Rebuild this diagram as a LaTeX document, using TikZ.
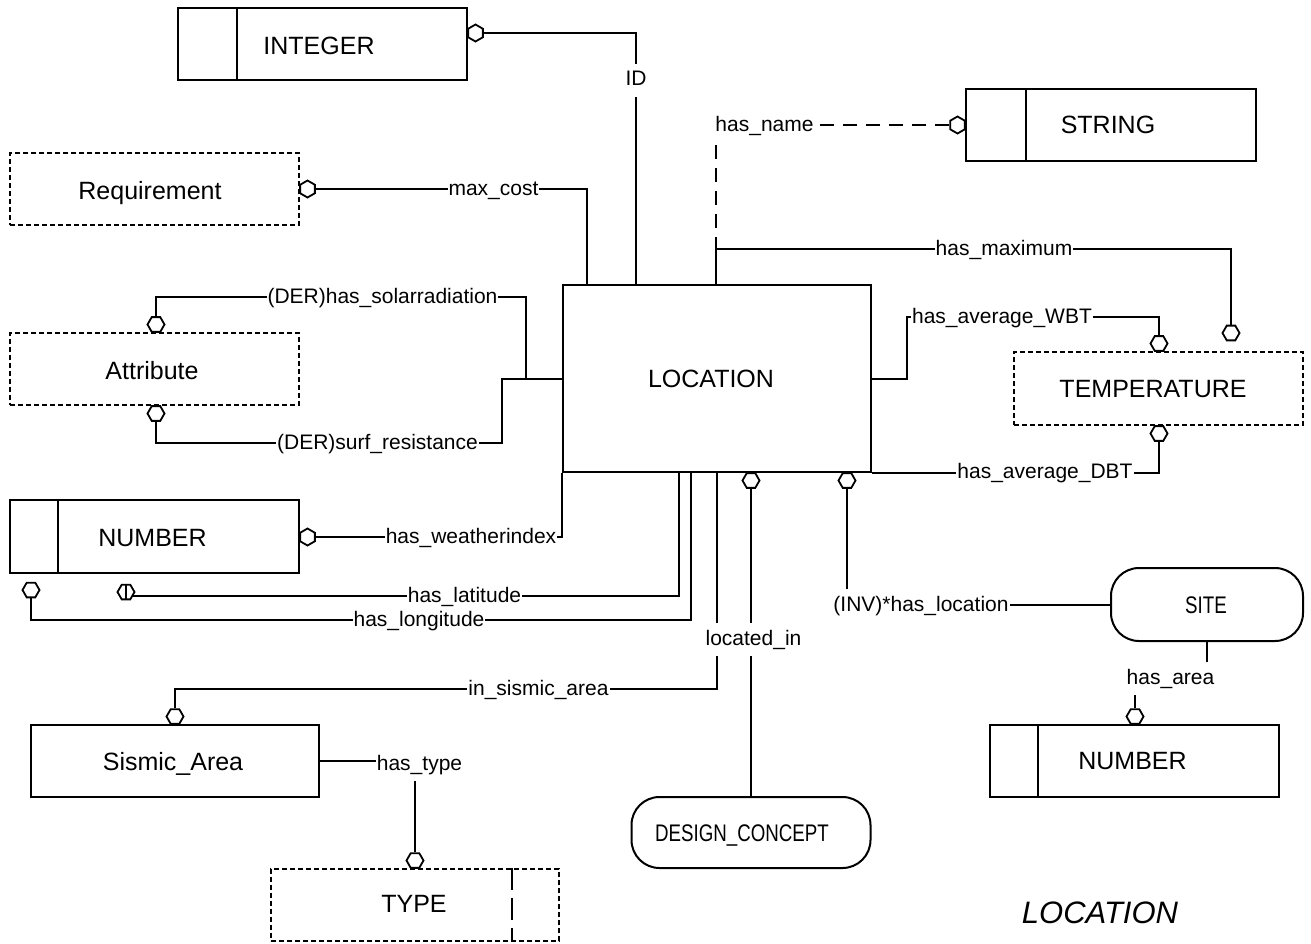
\documentclass[tikz,border=0pt]{standalone}
\usepackage{fontspec}
\setmainfont{Liberation Sans}
\newfontfamily\narrowfont[FakeStretch=0.78]{Liberation Sans}
\usetikzlibrary{shapes.geometric}

\newcommand{\boxfont}{\fontsize{25}{30}\selectfont}
\newcommand{\relfont}{\fontsize{21}{25}\selectfont}
\newcommand{\schemafont}{\narrowfont\fontsize{24}{28}\selectfont}

\begin{document}
\begin{tikzpicture}[x=1pt,y=-1pt,
  line width=2pt,
  entity/.style={draw, rectangle, inner sep=0pt, minimum width=289pt, minimum height=72pt},
  dashedentity/.style={entity, dash pattern=on 5pt off 3pt},
  schemabox/.style={draw, rectangle, rounded corners=28pt, inner sep=0pt},
  boxtext/.style={font=\boxfont, anchor=base, inner sep=0pt},
  hexv/.style={draw, fill=white, regular polygon, regular polygon sides=6,
               minimum size=17pt, inner sep=0pt, line width=1.8pt},
  hexh/.style={hexv, shape border rotate=90},
  rel/.style={font=\relfont, fill=white, anchor=base, text height=15pt,
              text depth=5pt, inner xsep=1pt, inner ysep=0pt},
  vrel/.style={rel, text height=16pt, inner ysep=6pt},
  namedash/.style={dash pattern=on 14pt off 9pt},
]
\fill[white] (0,0) rectangle (1311,943);
\useasboundingbox (0,0) rectangle (1311,943);

% ---------- entities ----------
\node[entity, minimum width=308pt, minimum height=187pt] (loc) at (717,378.5) {};
\node[boxtext] (locT) at (711,387) {LOCATION};

\node[entity] (integer) at (322.5,44) {};
\draw ([xshift=60pt]integer.north west) -- ([xshift=60pt]integer.south west);
\node[boxtext] (integerT) at (319,54) {INTEGER};

\node[entity, minimum width=290pt] (string) at (1111,125) {};
\draw ([xshift=61pt]string.north west) -- ([xshift=61pt]string.south west);
\node[boxtext] (stringT) at (1108,133) {STRING};

\node[dashedentity] (req) at (154.5,189) {};
\node[boxtext] (reqT) at (150,199) {Requirement};

\node[dashedentity] (attr) at (154.5,369) {};
\node[boxtext] (attrT) at (152,379) {Attribute};

\node[entity, minimum height=73pt] (numL) at (154.5,536.5) {};
\draw ([xshift=49pt]numL.north west) -- ([xshift=49pt]numL.south west);
\node[boxtext] (numLT) at (152.5,546) {NUMBER};

\node[dashedentity, minimum height=73pt] (temp) at (1158.5,388.5) {};
\node[boxtext] (tempT) at (1153,397) {TEMPERATURE};

\node[schemabox, minimum width=192pt, minimum height=73pt] (site) at (1207,604.5) {};
\node[font=\schemafont, anchor=base, inner sep=0pt] (siteT) at (1206,613) {SITE};

\node[entity] (numR) at (1134.5,761) {};
\draw ([xshift=49pt]numR.north west) -- ([xshift=49pt]numR.south west);
\node[boxtext] (numRT) at (1132.5,769) {NUMBER};

\node[entity, minimum width=288pt] (sismic) at (175,761) {};
\node[boxtext] (sismicT) at (173,770) {Sismic\_Area};

\node[dashedentity, minimum width=288pt] (type) at (415,905) {};
\draw[dash pattern=on 22pt off 8pt] ([xshift=-48pt]type.north east) -- ([xshift=-48pt]type.south east);
\node[boxtext] (typeT) at (414,912) {TYPE};

\node[schemabox, minimum width=239pt, minimum height=71pt] (design) at (751,832.5) {};
\node[font=\schemafont, anchor=base, inner sep=0pt] (designT) at (742,841.5) {DESIGN\_CONCEPT};

\node[font=\fontsize{31}{36}\selectfont\itshape, anchor=base, inner sep=0pt] (title) at (1100,923) {LOCATION};

% ---------- optional-end markers ----------
\node[hexh] (hInt)    at (475.5,33)    {};
\node[hexh] (hStr)    at (957.5,125)   {};
\node[hexh] (hReq)    at (307.5,189)   {};
\node[hexv] (hAttTop) at (156,324.5)   {};
\node[hexv] (hAttBot) at (156,413.5)   {};
\node[hexh] (hNum)    at (307.5,537)   {};
\node[hexv] (hLon)    at (31,590)      {};
\node[hexv] (hLat)    at (126,592)     {};
\node[hexv] (hTmpTop) at (1159,343.5)  {};
\node[hexv] (hMax)    at (1231,333)    {};
\node[hexv] (hTmpBot) at (1159,433.5)  {};
\node[hexv] (hLocIn)  at (751,480.5)   {};
\node[hexv] (hInv)    at (847,480.5)   {};
\node[hexv] (hSis)    at (175,716.5)   {};
\node[hexv] (hType)   at (415,860.5)   {};
\node[hexv] (hArea)   at (1135,716.5)  {};

% ---------- bend points ----------
\coordinate (jmax) at (716,249);
\coordinate (jSol) at (526,297);
\coordinate (jSurf) at (502,443);
\coordinate (jLon) at (691,620);
\coordinate (jSis) at (717,689);
\coordinate (jW) at (907,317);
\coordinate (jA) at (1170,678);

% ---------- relationships ----------
\draw (hInt.0) -| ([xshift=-81pt]loc.north);
\draw[namedash] (hStr.180) -| (jmax);
\draw ([xshift=-1pt]loc.north) -- (jmax) -| (hMax.90);
\draw (hReq.0) -| ([xshift=-130pt]loc.north);
\draw (hAttTop.90) |- (jSol) -- (jSol |- loc.west);
\draw (loc.west) -- (jSurf |- loc.west) -- (jSurf) -| (hAttBot.270);
\draw (hNum.0) -| (loc.south west);
\draw (hLat.-30) -| ([xshift=-38pt]loc.south);
\draw (hLat.90) -- (hLat.270);
\draw (hLon.270) |- (jLon) -- (jLon |- loc.south);
\draw (loc.south) -- (jSis) -| (hSis.90);
\draw (hLocIn.270) -- (design.north);
\draw (hInv.270) |- (site.west);
\draw (loc.east) -- (jW |- loc.east) -- (jW) -| (hTmpTop.90);
\draw (loc.south east) -| (hTmpBot.270);
\draw (site.south) |- (jA) -| (hArea.90);
\draw (sismic.east) -| (hType.90);

% ---------- relationship names ----------
\node[vrel] (lID)   at (636,85.5)   {ID};
\node[vrel] (lName) at (764.5,131)  {has\_name};
\node[rel]  (lMax)  at (1004,255)   {has\_maximum};
\node[rel]  (lCost) at (493.5,195)  {max\_cost};
\node[rel]  (lSol)  at (382.5,303)  {(DER)has\_solarradiation};
\node[rel]  (lSurf) at (377.5,449)  {(DER)surf\_resistance};
\node[rel]  (lWx)   at (471,543)    {has\_weatherindex};
\node[rel]  (lLat)  at (464.5,602)  {has\_latitude};
\node[rel]  (lLon)  at (419,626)    {has\_longitude};
\node[vrel] (lIn)   at (753.5,645)  {located\_in};
\node[rel]  (lSis)  at (538.5,695)  {in\_sismic\_area};
\node[vrel] (lType) at (419.5,770)  {has\_type};
\node[rel]  (lWBT)  at (1002,323)   {has\_average\_WBT};
\node[rel]  (lDBT)  at (1045,478)   {has\_average\_DBT};
\node[vrel] (lInv)  at (921,611)    {(INV)*has\_location};
\node[vrel] (lArea) at (1170.5,684) {has\_area};
\end{tikzpicture}
\end{document}
